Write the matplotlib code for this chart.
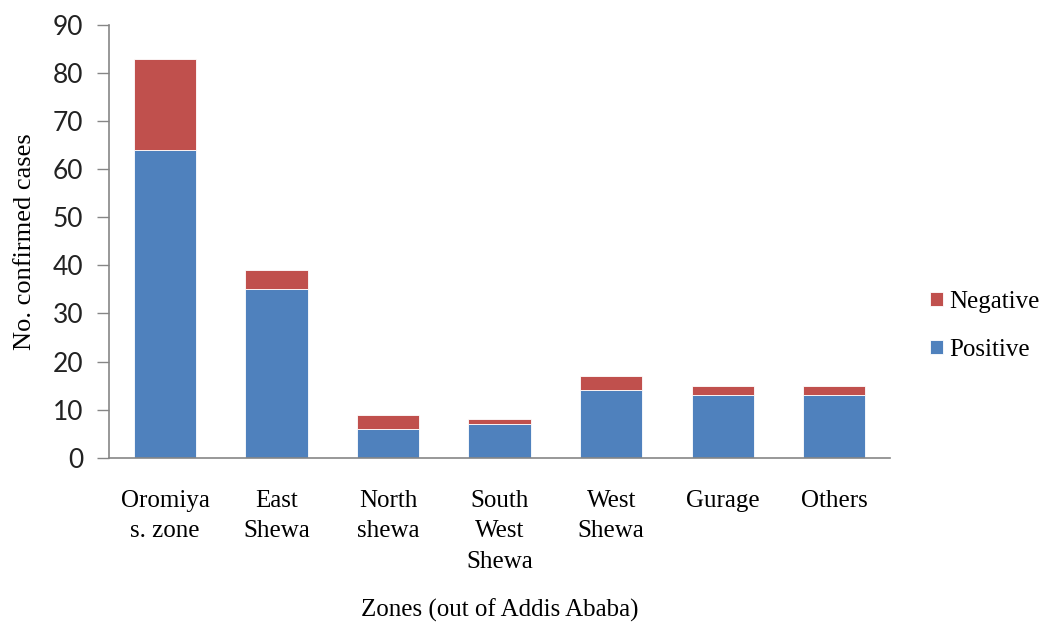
import numpy as np
import matplotlib.pyplot as plt

zones = ["Oromiya\ns. zone", "East\nShewa", "North\nshewa", "South\nWest\nShewa",
         "West\nShewa", "Gurage", "Others"]
positive = [64, 35, 6, 7, 14, 13, 13]
negative = [19, 4, 3, 1, 3, 2, 2]

blue = "#4f81bd"
red = "#c0504d"
axis_grey = "#868686"
serif = "Liberation Serif"

fig = plt.figure(figsize=(10.52, 6.22), dpi=100)
ax = fig.add_axes([0.104, 0.264, 0.742, 0.696])

x = np.arange(len(zones))
ax.bar(x, positive, width=0.56, color=blue, edgecolor="white", linewidth=0.6, label="Positive")
ax.bar(x, negative, width=0.56, bottom=positive, color=red, edgecolor="white", linewidth=0.6,
       label="Negative")

ax.set_xlim(-0.5, len(zones) - 0.5)
ax.set_ylim(0, 90)
ax.set_yticks(np.arange(0, 91, 10))
ax.set_xticks(x)
ax.set_xticklabels(zones, fontfamily=serif, fontsize=18, linespacing=1.5)
ax.tick_params(axis="x", length=0, pad=23)
ax.tick_params(axis="y", length=9, width=1, color=axis_grey, pad=10)
for lab in ax.get_yticklabels():
    lab.set_fontfamily("Lato")
    lab.set_fontsize(19)
    lab.set_color("#222222")

for side in ["top", "right"]:
    ax.spines[side].set_visible(False)
for side in ["left", "bottom"]:
    ax.spines[side].set_color(axis_grey)
    ax.spines[side].set_linewidth(1.2)

ax.set_ylabel("No. confirmed cases", fontfamily=serif, fontsize=19, labelpad=12)
ax.set_xlabel("Zones (out of Addis Ababa)", fontfamily=serif, fontsize=18)
ax.xaxis.set_label_coords(0.5, -0.325)

handles, labels = ax.get_legend_handles_labels()
ax.legend(handles[::-1], labels[::-1], loc="center left", bbox_to_anchor=(1.023, 0.305),
          frameon=False, prop={"family": serif, "size": 18},
          handlelength=0.5, handleheight=0.5, handletextpad=0.25, labelspacing=1.05)

fig.savefig("out.png", dpi=100)
